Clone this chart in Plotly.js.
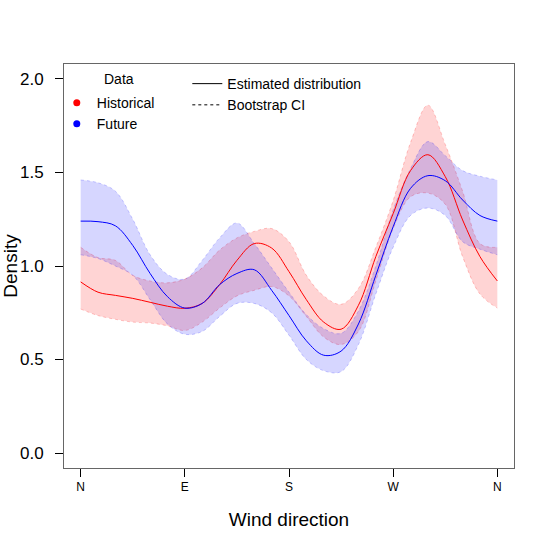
<!DOCTYPE html>
<html>
<head>
<meta charset="utf-8">
<script src="https://cdn.plot.ly/plotly-3.0.1.min.js"></script>
<style>
  body { margin: 0; background: #fff; }
  #plot { width: 548px; height: 548px; }
</style>
</head>
<body>
<div id="plot"></div>
<script>
// wind direction in degrees (0 = N, 90 = E, 180 = S, 270 = W)
var direction = [0,15,30,45,60,75,90,105,120,135,150,165,180,195,210,225,240,255,270,285,300,315,330,345,360];

var histDensity = [0.915,0.86,0.843,0.827,0.806,0.785,0.774,0.80,0.90,1.03,1.12,1.096,0.97,0.82,0.70,0.662,0.79,1.05,1.28,1.51,1.595,1.478,1.246,1.05,0.92];
var histLower   = [0.77,0.735,0.715,0.70,0.695,0.68,0.655,0.70,0.775,0.84,0.87,0.89,0.84,0.73,0.62,0.58,0.65,0.92,1.20,1.37,1.39,1.33,1.05,0.85,0.775];
var histUpper   = [1.10,1.045,1.03,0.95,0.92,0.91,0.93,0.99,1.085,1.15,1.185,1.20,1.13,0.95,0.84,0.795,0.88,1.10,1.35,1.66,1.86,1.65,1.40,1.12,1.10];

var futDensity = [1.24,1.237,1.215,1.11,0.96,0.836,0.775,0.80,0.90,0.96,0.98,0.87,0.735,0.60,0.523,0.545,0.69,0.95,1.21,1.415,1.483,1.456,1.353,1.27,1.24];
var futLower   = [1.06,1.04,1.00,0.95,0.82,0.69,0.635,0.65,0.73,0.80,0.80,0.75,0.63,0.50,0.44,0.435,0.58,0.85,1.10,1.27,1.31,1.27,1.13,1.09,1.06];
var futUpper   = [1.46,1.445,1.40,1.25,1.06,0.955,0.93,1.03,1.15,1.23,1.12,0.99,0.86,0.74,0.665,0.64,0.76,1.00,1.30,1.52,1.665,1.59,1.51,1.48,1.46];

var tickDeg = [0, 90, 180, 270, 360];
var tickLab = ['N', 'E', 'S', 'W', 'N'];

function band(lo, hi, lineCol, fillCol) {
  return [
    {x: direction, y: lo, mode: 'lines', showlegend: false, hoverinfo: 'skip',
     line: {color: lineCol, width: 1, dash: '3px,3px', shape: 'spline'}},
    {x: direction, y: hi, mode: 'lines', fill: 'tonexty', fillcolor: fillCol,
     showlegend: false, hoverinfo: 'skip',
     line: {color: lineCol, width: 1, dash: '3px,3px', shape: 'spline'}}
  ];
}

var data = []
  .concat(band(histLower, histUpper, 'rgba(255,0,0,0.22)', 'rgba(255,0,0,0.17)'))
  .concat(band(futLower, futUpper, 'rgba(0,0,255,0.20)', 'rgba(0,0,255,0.16)'));

data.push({x: direction, y: histDensity, mode: 'lines', showlegend: false,
  line: {color: '#ff0000', width: 1, shape: 'spline'}});
data.push({x: direction, y: futDensity, mode: 'lines', showlegend: false,
  line: {color: '#0000ff', width: 1, shape: 'spline'}});

// legend entries
data.push({x: [null], y: [null], mode: 'markers', name: 'Historical', legend: 'legend',
  marker: {color: '#ff0000', size: 7}});
data.push({x: [null], y: [null], mode: 'markers', name: 'Future', legend: 'legend',
  marker: {color: '#0000ff', size: 7}});
data.push({x: [null], y: [null], mode: 'lines', name: 'Estimated distribution', legend: 'legend2',
  line: {color: '#000', width: 1}});
data.push({x: [null], y: [null], mode: 'lines', name: 'Bootstrap CI', legend: 'legend2',
  line: {color: '#000', width: 1, dash: '3px,3px'}});

var layout = {
  width: 548, height: 548,
  margin: {l: 64, r: 34, t: 64, b: 80},
  paper_bgcolor: '#fff', plot_bgcolor: '#fff',
  font: {family: 'Liberation Sans, Arial, sans-serif', color: '#000'},
  hovermode: false,
  xaxis: {
    range: [-14.4, 374.4], tickvals: tickDeg, ticktext: tickLab,
    showgrid: false, zeroline: false,
    showline: true, mirror: true, linecolor: '#666', linewidth: 1,
    ticks: 'outside', ticklen: 8, tickcolor: '#000',
    tickfont: {size: 12},
    title: {text: 'Wind direction', font: {size: 19}, standoff: 19}
  },
  yaxis: {
    range: [-0.08, 2.08], tickvals: [0, 0.5, 1, 1.5, 2], tickformat: '.1f',
    showgrid: false, zeroline: false,
    showline: true, mirror: true, linecolor: '#666', linewidth: 1,
    ticks: 'outside', ticklen: 8, tickcolor: '#000',
    tickfont: {size: 17}, ticklabelstandoff: 8,
    title: {text: 'Density', font: {size: 19}, standoff: 4}
  },
  legend: {
    x: -0.016, y: 0.943, xanchor: 'left', yanchor: 'top',
    bgcolor: 'rgba(0,0,0,0)', font: {size: 14},
    traceorder: 'normal', tracegroupgap: 0
  },
  legend2: {
    x: 0.274, y: 0.99, xanchor: 'left', yanchor: 'top',
    bgcolor: 'rgba(0,0,0,0)', font: {size: 14},
    traceorder: 'normal'
  },
  annotations: [{
    text: 'Data', xref: 'paper', yref: 'paper', x: 0.122, y: 0.963,
    xanchor: 'center', yanchor: 'middle', showarrow: false, font: {size: 14}
  }]
};

Plotly.newPlot('plot', data, layout, {displayModeBar: false, staticPlot: true});
</script>
</body>
</html>
